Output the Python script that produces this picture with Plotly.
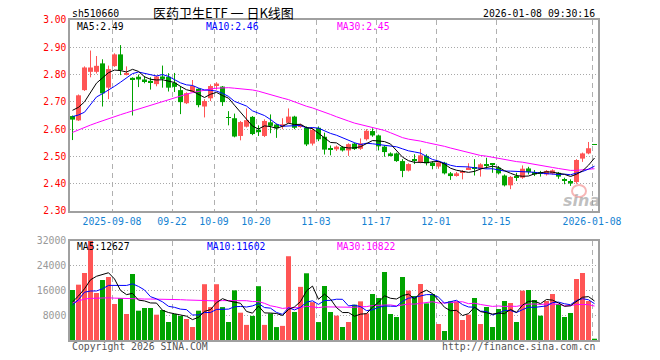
import numpy as np
import plotly.graph_objects as go

# ---------------- data ----------------
opens = [2.648,2.632,2.743,2.810,2.810,2.841,2.752,2.831,2.874,2.800,
         2.788,2.792,2.782,2.777,2.765,2.793,2.792,2.770,2.743,2.695,
         2.737,2.748,2.683,2.713,2.758,2.756,2.644,2.640,2.575,2.609,
         2.645,2.598,2.575,2.625,2.617,2.610,2.623,2.646,2.610,2.605,
         2.547,2.605,2.572,2.530,2.526,2.534,2.522,2.547,2.528,2.563,
         2.593,2.577,2.536,2.511,2.511,2.483,2.448,2.488,2.478,2.502,
         2.477,2.463,2.477,2.438,2.431,2.440,2.453,2.459,2.455,2.468,
         2.471,2.459,2.430,2.394,2.427,2.422,2.456,2.443,2.441,2.434,
         2.437,2.440,2.416,2.410,2.406,2.492,2.511,2.543]
highs = [2.650,2.727,2.830,2.888,2.868,2.856,2.833,2.878,2.908,2.830,
         2.790,2.800,2.795,2.790,2.796,2.833,2.805,2.806,2.758,2.735,
         2.780,2.750,2.710,2.764,2.772,2.758,2.666,2.657,2.630,2.676,
         2.648,2.614,2.636,2.654,2.620,2.640,2.676,2.649,2.620,2.610,
         2.605,2.610,2.587,2.540,2.540,2.538,2.548,2.550,2.566,2.600,
         2.603,2.580,2.540,2.515,2.514,2.490,2.475,2.508,2.528,2.508,
         2.483,2.481,2.480,2.443,2.443,2.450,2.475,2.490,2.475,2.495,
         2.472,2.465,2.434,2.428,2.440,2.467,2.462,2.450,2.447,2.450,
         2.453,2.443,2.422,2.416,2.490,2.514,2.553,2.543]
lows = [2.560,2.630,2.740,2.790,2.804,2.683,2.710,2.828,2.798,2.797,
        2.650,2.754,2.768,2.745,2.757,2.752,2.738,2.736,2.655,2.692,
        2.735,2.680,2.643,2.703,2.745,2.685,2.614,2.570,2.559,2.606,
        2.578,2.575,2.571,2.585,2.568,2.600,2.620,2.600,2.605,2.538,
        2.540,2.556,2.507,2.504,2.520,2.518,2.502,2.524,2.524,2.558,
        2.572,2.522,2.499,2.500,2.480,2.424,2.445,2.472,2.475,2.467,
        2.453,2.455,2.434,2.414,2.426,2.416,2.450,2.430,2.426,2.455,
        2.440,2.434,2.390,2.380,2.410,2.418,2.434,2.428,2.426,2.430,
        2.434,2.418,2.398,2.392,2.400,2.480,2.508,2.542]
closes = [2.635,2.724,2.826,2.826,2.832,2.731,2.820,2.874,2.816,2.806,
          2.780,2.782,2.775,2.771,2.793,2.784,2.752,2.755,2.699,2.732,
          2.758,2.688,2.703,2.758,2.767,2.699,2.641,2.573,2.626,2.633,
          2.582,2.589,2.630,2.612,2.603,2.618,2.646,2.605,2.616,2.544,
          2.597,2.563,2.525,2.527,2.536,2.522,2.545,2.527,2.548,2.594,
          2.577,2.537,2.516,2.504,2.483,2.447,2.472,2.486,2.504,2.475,
          2.465,2.478,2.438,2.428,2.438,2.445,2.459,2.456,2.471,2.466,
          2.469,2.438,2.394,2.425,2.424,2.455,2.443,2.434,2.439,2.447,
          2.449,2.426,2.410,2.401,2.487,2.511,2.530,2.542]
volumes = [16110,17830,21590,32000,15140,19330,20300,11600,13530,8380,
           21270,9450,10310,10310,8160,9670,5800,8380,7730,6770,
           4190,9450,17980,10600,17980,10600,5800,16000,8800,4870,
           7760,17340,4870,8560,4170,4550,27000,9040,17120,21500,
           12200,5780,17400,9020,7840,4190,5800,11380,12460,8600,
           14820,13530,21910,8380,7410,20300,15900,14180,18040,11810,
           14820,5160,2900,12460,12460,6440,8160,13530,5160,10630,
           4190,9990,12570,11920,5800,15900,16110,12890,7840,12570,
           14820,11600,7410,8700,19650,21590,12570,320]

# moving-average values for the first sessions
# (their windows reach back before the first candle shown)
ma5_head = [2.669, 2.680, 2.700, 2.735]
ma10_head = [2.646, 2.652, 2.662, 2.690, 2.718, 2.730, 2.742, 2.757, 2.772]
ma30_head = [2.588, 2.598, 2.607, 2.615, 2.623, 2.631, 2.639, 2.646, 2.653, 2.660,
             2.667, 2.674, 2.681, 2.688, 2.695, 2.702, 2.709, 2.716, 2.722, 2.728,
             2.734, 2.739, 2.743, 2.747, 2.750, 2.752, 2.752, 2.750, 2.748]
vma5_head = [12270, 14200, 16500, 19400]
vma10_head = [11300, 13000, 15400, 15800, 15800, 16500, 17600, 17600, 17600]
vma30_head = [12000, 12700, 13200, 13400, 13500, 13600, 13600, 13500, 13400, 13300,
              13200, 13200, 13200, 13200, 13200, 13100, 13100, 13000, 13000, 12900,
              12800, 12700, 12600, 12600, 12600, 12700, 12700, 12700, 12700]

date_labels = ["2025-09-08", "09-22", "10-09", "10-20", "11-03", "11-17",
               "12-01", "12-15", "2026-01-08"]
date_index = [7, 17, 24, 31, 41, 51, 61, 71, 87]

price_ticks = [2.30, 2.40, 2.50, 2.60, 2.70, 2.80, 2.90, 3.00]
vol_ticks = [8000, 16000, 24000, 32000]

title_text = "医药卫生ETF 一 日K线图"
code_text = "sh510660"
time_text = "2026-01-08 09:30:16"
price_ma_labels = ["MA5:2.49", "MA10:2.46", "MA30:2.45"]
vol_ma_labels = ["MA5:12627", "MA10:11602", "MA30:10822"]

# ---------------- helpers ----------------
n = len(closes)
idx = np.arange(n)
o = np.array(opens); c = np.array(closes)
h = np.array(highs); l = np.array(lows)
v = np.array(volumes, dtype=float)


def moving(arr, w, head):
    out = np.empty(len(arr))
    out[:len(head)] = head
    for i in range(len(head), len(arr)):
        out[i] = arr[i - w + 1:i + 1].mean()
    return out


ma5 = moving(c, 5, ma5_head)
ma10 = moving(c, 10, ma10_head)
ma30 = moving(c, 30, ma30_head)
vma5 = moving(v, 5, vma5_head)
vma10 = moving(v, 10, vma10_head)
vma30 = moving(v, 30, vma30_head)

RED = "#ff5555"
GREEN = "#00a300"
up = c >= o
colors = [RED if u else GREEN for u in up]

MONO = "DejaVu Sans Mono"

fig = go.Figure()

# wicks
for flag, col in ((True, RED), (False, GREEN)):
    xs, ys = [], []
    for i in idx[up == flag]:
        xs += [i, i, None]
        ys += [l[i], h[i], None]
    fig.add_trace(go.Scatter(x=xs, y=ys, mode="lines", line=dict(color=col, width=1),
                             xaxis="x", yaxis="y", hoverinfo="skip", showlegend=False))

# bodies
body_base = np.minimum(o, c)
body_h = np.maximum(np.abs(c - o), 0.0035)
fig.add_trace(go.Bar(x=idx, y=body_h, base=body_base, width=0.83,
                     marker=dict(color=colors, line=dict(width=0)),
                     xaxis="x", yaxis="y", showlegend=False))

# price MAs
for arr, col in ((ma30, "#ff00ff"), (ma10, "#0000ff"), (ma5, "#000000")):
    fig.add_trace(go.Scatter(x=idx, y=arr, mode="lines", line=dict(color=col, width=1),
                             xaxis="x", yaxis="y", showlegend=False))

# volume
fig.add_trace(go.Bar(x=idx, y=v, width=0.83,
                     marker=dict(color=colors, line=dict(width=0)),
                     xaxis="x2", yaxis="y2", showlegend=False))
for arr, col in ((vma30, "#ff00ff"), (vma10, "#0000ff"), (vma5, "#000000")):
    fig.add_trace(go.Scatter(x=idx, y=arr, mode="lines", line=dict(color=col, width=1),
                             xaxis="x2", yaxis="y2", showlegend=False))

L, R, T, B = 70, 598, 20, 340
W = R - L
H = B - T


def px(x):
    return (x - L) / W


def py(y):
    return (B - y) / H


xr = [-0.41667, n - 0.41667]
tick_pos = [i - 0.41667 for i in date_index]

axis_common = dict(showline=True, mirror=True, linecolor="#a0a0a0", linewidth=1.5,
                   zeroline=False, ticks="")

fig.update_layout(
    width=660, height=360,
    margin=dict(l=L, r=660 - R, t=T, b=360 - B),
    paper_bgcolor="white", plot_bgcolor="white",
    barmode="overlay",
    showlegend=False,
    xaxis=dict(domain=[0, 1], range=xr, anchor="y", tickvals=tick_pos, ticktext=date_labels,
               tickfont=dict(family=MONO, size=9.8, color="#1482d2"),
               showgrid=True, gridcolor="#b0b0b0", griddash="5px,4px", gridwidth=1,
               **axis_common),
    yaxis=dict(domain=[py(211), 1], range=[2.30, 3.00], anchor="x", tickvals=price_ticks,
               ticktext=[f"{t:.2f}" for t in price_ticks],
               tickfont=dict(family=MONO, size=9.6, color="#ff0000"),
               showgrid=True, gridcolor="#a8a8a8", griddash="1px,2px", gridwidth=1,
               **axis_common),
    xaxis2=dict(domain=[0, 1], range=xr, anchor="y2", tickvals=tick_pos,
                showticklabels=False, showgrid=True, gridcolor="#b0b0b0",
                griddash="5px,4px", gridwidth=1, **axis_common),
    yaxis2=dict(domain=[0, py(240.7)], range=[0, 32000], anchor="x2", tickvals=vol_ticks,
                ticktext=[str(t) for t in vol_ticks],
                tickfont=dict(family=MONO, size=9.8, color="#999999"),
                showgrid=True, gridcolor="#a8a8a8", griddash="1px,2px", gridwidth=1,
                **axis_common),
)


def text(x, y, s, color="#000000", size=9.7, anchor="left", family=MONO, **kw):
    fig.add_annotation(x=px(x), y=py(y), xref="paper", yref="paper", text=s,
                       showarrow=False, xanchor=anchor, yanchor="middle",
                       font=dict(family=family, size=size, color=color), **kw)


text(70, 13.5, code_text, size=9.8)
text(223, 12.5, title_text, size=13, anchor="center", family="Noto Sans CJK SC")
text(597, 13.5, time_text, size=9.8, anchor="right")

ma_cols = ["#000000", "#0000ff", "#ff00ff"]
for s, x, col in zip(price_ma_labels, [75, 204, 334.7], ma_cols):
    text(x, 26.3, s, color=col)
for s, x, col in zip(vol_ma_labels, [75, 205, 334.7], ma_cols):
    text(x, 246.3, s, color=col)

text(70, 346.5, "Copyright 2026 SINA.COM", color="#555555", size=9.8)
text(597, 346.5, "http://finance.sina.com.cn", color="#555555", size=9.8, anchor="right")

# sina watermark
fig.add_shape(type="circle", xref="paper", yref="paper",
              x0=px(572), x1=px(586), y0=py(197), y1=py(185),
              line=dict(color="rgba(240,120,120,0.55)", width=2))
text(581, 200, "<b><i>sina</i></b>", color="rgba(150,150,150,0.6)", size=16,
     anchor="center", family="DejaVu Sans")

fig.write_html("out.html", config={"displayModeBar": False},
               post_script="document.body.style.margin='0';document.body.style.padding='0';")
